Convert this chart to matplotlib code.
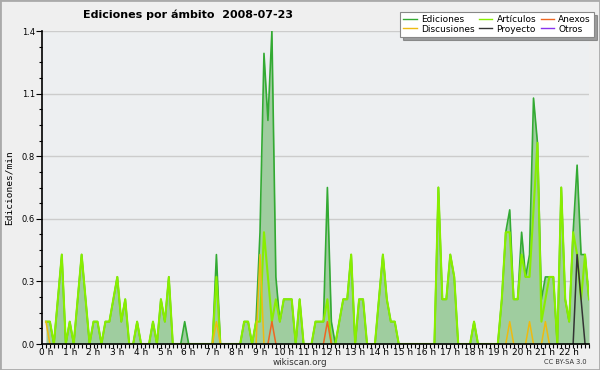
import numpy as np
import matplotlib
matplotlib.use('Agg')
import matplotlib.pyplot as plt
from matplotlib.lines import Line2D
from matplotlib.patches import Rectangle

# edits per minute, one value per 10-minute slot starting at 0:00
ediciones = [0.1, 0.1, 0, 0.2, 0.4, 0, 0.1, 0, 0.2, 0.4,
             0.2, 0, 0.1, 0.1, 0, 0.1, 0.1, 0.2, 0.3, 0.1,
             0.2, 0, 0, 0.1, 0, 0, 0, 0.1, 0, 0.2,
             0.1, 0.3, 0, 0, 0, 0.1, 0, 0, 0, 0,
             0, 0, 0, 0.4, 0, 0, 0, 0, 0, 0,
             0.1, 0.1, 0, 0.1, 0.5, 1.3, 1.0, 1.4, 0.3, 0.1,
             0.2, 0.2, 0.2, 0, 0.2, 0, 0, 0, 0.1, 0.1,
             0.1, 0.7, 0.1, 0, 0.1, 0.2, 0.2, 0.4, 0, 0.2,
             0.2, 0, 0, 0, 0.2, 0.4, 0.2, 0.1, 0.1, 0,
             0, 0, 0, 0, 0, 0, 0, 0, 0, 0.7,
             0.2, 0.2, 0.4, 0.3, 0, 0, 0, 0, 0.1, 0,
             0, 0, 0, 0, 0, 0.2, 0.5, 0.6, 0.2, 0.2,
             0.5, 0.3, 0.4, 1.1, 0.9, 0.2, 0.3, 0.3, 0.3, 0,
             0.7, 0.2, 0.1, 0.5, 0.8, 0.4, 0.4, 0.2]
articulos = [0.1, 0.1, 0, 0.2, 0.4, 0, 0.1, 0, 0.2, 0.4,
             0.2, 0, 0.1, 0.1, 0, 0.1, 0.1, 0.2, 0.3, 0.1,
             0.2, 0, 0, 0.1, 0, 0, 0, 0.1, 0, 0.2,
             0.1, 0.3, 0, 0, 0, 0, 0, 0, 0, 0,
             0, 0, 0, 0.3, 0, 0, 0, 0, 0, 0,
             0.1, 0.1, 0, 0.1, 0.1, 0.5, 0.3, 0.1, 0.2, 0.1,
             0.2, 0.2, 0.2, 0, 0.2, 0, 0, 0, 0.1, 0.1,
             0.1, 0.2, 0, 0, 0.1, 0.2, 0.2, 0.4, 0, 0.2,
             0.2, 0, 0, 0, 0.2, 0.4, 0.2, 0.1, 0.1, 0,
             0, 0, 0, 0, 0, 0, 0, 0, 0, 0.7,
             0.2, 0.2, 0.4, 0.3, 0, 0, 0, 0, 0.1, 0,
             0, 0, 0, 0, 0, 0.2, 0.5, 0.5, 0.2, 0.2,
             0.4, 0.3, 0.3, 0.6, 0.9, 0.1, 0.2, 0.3, 0.3, 0,
             0.7, 0.2, 0.1, 0.5, 0.4, 0.2, 0.4, 0.2]
# sparse series: slot -> edits per minute
discusiones = {0: 0.1, 43: 0.1, 54: 0.4, 117: 0.1, 122: 0.1, 126: 0.1}
anexos = {57: 0.1, 71: 0.1}
proyecto = {134: 0.4, 135: 0.2}
otros = {}

hour_labels = ['%d h' % h for h in range(23)]
y_ticks = [0.0, 0.28, 0.56, 0.84, 1.12, 1.4]
y_labels = ['0.0', '0.3', '0.6', '0.8', '1.1', '1.4']

n = len(ediciones)
t = np.arange(n) / 6.0


def dense(d):
    a = np.zeros(n)
    for k, v in d.items():
        a[k] = v
    return a


colors = {
    'Ediciones': '#33aa33',
    'Artículos': '#88ee00',
    'Anexos': '#ee6622',
    'Discusiones': '#eebb11',
    'Proyecto': '#333333',
    'Otros': '#8833ee',
}

fig = plt.figure(figsize=(6, 3.7), dpi=100, facecolor='#efefef')
ax = fig.add_axes([42 / 600, 1 - 344 / 370, 547 / 600, 313 / 370])
ax.set_facecolor('#edeff1')

ax.fill_between(t, ediciones, 0, color='#9fcd9f', lw=0, zorder=2)
ax.plot(t, ediciones, color=colors['Ediciones'], lw=1.2, zorder=3)
ax.plot(t, articulos, color=colors['Artículos'], lw=1.5, zorder=4)
for name, d in [('Discusiones', discusiones), ('Anexos', anexos),
                ('Proyecto', proyecto), ('Otros', otros)]:
    if d:
        y = dense(d)
        # only draw around non-zero slots so the baseline stays clean
        mask = np.zeros(n, bool)
        for k in d:
            mask[max(k - 1, 0):k + 2] = True
        y = np.where(mask, y, np.nan)
        ax.plot(t, y, color=colors[name], lw=1.1, zorder=5)

ax.set_xlim(-1 / 6, (n - 1) / 6)
ax.set_ylim(0, 1.4)
ax.set_xticks(range(23))
ax.set_xticklabels(hour_labels, fontsize=6.5)
ax.set_xticks(np.arange(-1, n) / 6.0, minor=True)
ax.set_yticks(y_ticks)
ax.set_yticklabels(y_labels, fontsize=6)
ax.set_yticks(np.arange(0, 1.41, 0.07), minor=True)
ax.tick_params(axis='x', which='both', length=3, width=0.8, pad=0)
ax.tick_params(axis='y', which='major', length=4, width=0.8, pad=1)
ax.tick_params(axis='y', which='minor', length=2.5, width=0.8)
ax.yaxis.grid(True, color='#cccccc', lw=1)
ax.set_axisbelow(True)
for s in ['top', 'right']:
    ax.spines[s].set_visible(False)
for s in ['left', 'bottom']:
    ax.spines[s].set_linewidth(1.2)
    ax.spines[s].set_zorder(6)

ax.set_ylabel('Ediciones/min', fontsize=6.8, family='DejaVu Sans Mono', labelpad=6)

fig.text(188 / 600, 1 - 15 / 370, 'Ediciones por ámbito  2008-07-23',
         ha='center', va='center', fontsize=8, fontweight='bold')
fig.text(300 / 600, 1 - 362.5 / 370, 'wikiscan.org', ha='center', va='center',
         fontsize=6.3, color='#333333')
fig.text(565 / 600, 1 - 362.5 / 370, 'CC BY-SA 3.0', ha='center', va='center',
         fontsize=4.8, color='#333333')

order = ['Ediciones', 'Discusiones', 'Artículos', 'Proyecto', 'Anexos', 'Otros']
handles = [Line2D([], [], color=colors[k], lw=1) for k in order]
leg = fig.legend(handles, order, ncol=3, loc='upper right',
                 bbox_to_anchor=(594 / 600, 1 - 12 / 370), fontsize=6.5,
                 frameon=True, fancybox=False, shadow=True,
                 handlelength=1.5, handletextpad=0.45, columnspacing=0.5,
                 labelspacing=0.05, borderpad=0.35, borderaxespad=0)
leg.get_frame().set_edgecolor('#888888')
leg.get_frame().set_linewidth(0.8)

fig.patches.append(Rectangle((0, 0), 1, 1, transform=fig.transFigure,
                             fill=False, edgecolor='#aaaaaa', lw=2))

fig.savefig('out.png', dpi=100, facecolor=fig.get_facecolor())
